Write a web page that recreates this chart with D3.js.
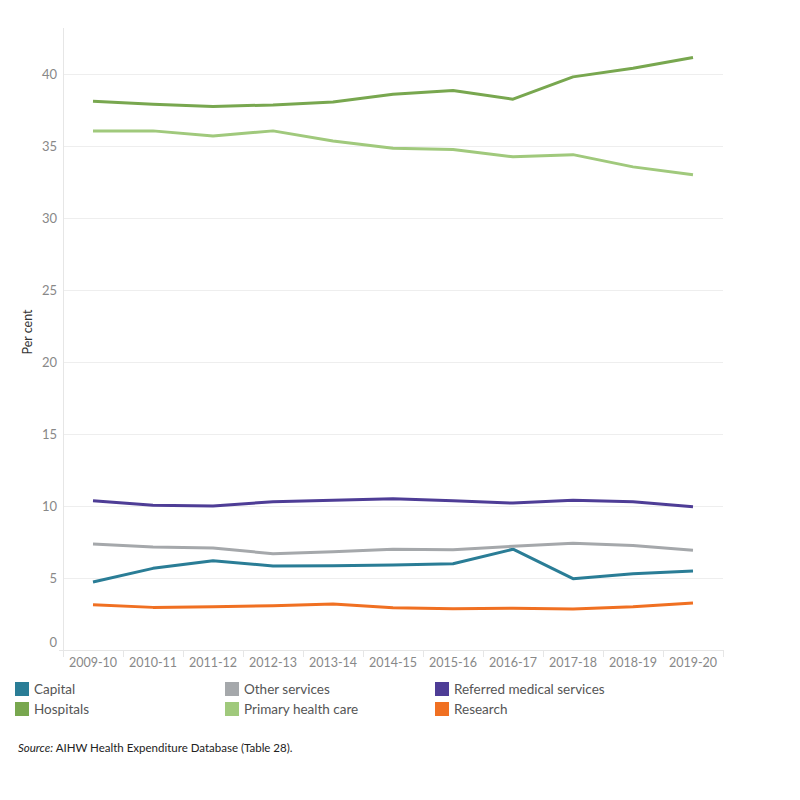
<!DOCTYPE html>
<html>
<head>
<meta charset="utf-8">
<script src="https://cdn.jsdelivr.net/npm/d3@7"></script>
<style>
  body { margin: 0; background: #fff; font-family: "Lato", "Open Sans", sans-serif; }
</style>
</head>
<body>
<div id="chart"></div>
<script>
// Data
const years = ["2009-10", "2010-11", "2011-12", "2012-13", "2013-14", "2014-15",
               "2015-16", "2016-17", "2017-18", "2018-19", "2019-20"];
const capital   = [4.72, 5.67, 6.2, 5.83, 5.85, 5.9, 5.99, 7.0, 4.95, 5.3, 5.49];
const other     = [7.36, 7.15, 7.08, 6.69, 6.83, 6.99, 6.97, 7.2, 7.41, 7.25, 6.92];
const referred  = [10.37, 10.05, 10.0, 10.3, 10.4, 10.5, 10.37, 10.2, 10.4, 10.3, 9.95];
const hospitals = [38.1, 37.9, 37.75, 37.85, 38.05, 38.6, 38.85, 38.25, 39.8, 40.4, 41.15];
const primary   = [36.05, 36.05, 35.7, 36.05, 35.35, 34.85, 34.75, 34.25, 34.4, 33.55, 33.0];
const research  = [3.15, 2.96, 3.0, 3.08, 3.19, 2.94, 2.87, 2.9, 2.85, 3.0, 3.26];
const yTicks = [0, 5, 10, 15, 20, 25, 30, 35, 40];

const series = [
    { name: "Capital", values: capital, color: "#2a7d96" },
    { name: "Other services", values: other, color: "#a5a8ab" },
    { name: "Referred medical services", values: referred, color: "#4e3d96" },
    { name: "Hospitals", values: hospitals, color: "#78a74f" },
    { name: "Primary health care", values: primary, color: "#a0c97c" },
    { name: "Research", values: research, color: "#f07022" }
];

const svg = d3.select("#chart").append("svg")
    .attr("width", 800)
    .attr("height", 800);

const plot = { left: 63, right: 723, top: 28, bottom: 650 };

const x = d3.scaleBand()
    .domain(years)
    .range([plot.left, plot.right]);

const y = d3.scaleLinear()
    .domain([0, 40])
    .range([plot.bottom, 74]);

// Gridlines
svg.append("g")
    .selectAll("line")
    .data(yTicks.filter(d => d > 0))
  .enter().append("line")
    .attr("x1", plot.left)
    .attr("x2", plot.right)
    .attr("y1", d => Math.round(y(d)) + 0.5)
    .attr("y2", d => Math.round(y(d)) + 0.5)
    .attr("stroke", "#eeeeee")
    .attr("stroke-width", 1);

// Axis lines
svg.append("line")
    .attr("x1", plot.left + 0.5).attr("x2", plot.left + 0.5)
    .attr("y1", plot.top).attr("y2", plot.bottom + 2)
    .attr("stroke", "#e6e6e6");
svg.append("line")
    .attr("x1", plot.left - 4).attr("x2", plot.right)
    .attr("y1", plot.bottom + 0.5).attr("y2", plot.bottom + 0.5)
    .attr("stroke", "#e6e6e6");

// Band separators below the x axis
svg.append("g")
    .selectAll("line")
    .data(years.concat(["end"]))
  .enter().append("line")
    .attr("x1", (d, i) => i < years.length ? x(d) + 0.5 : plot.right + 0.5)
    .attr("x2", (d, i) => i < years.length ? x(d) + 0.5 : plot.right + 0.5)
    .attr("y1", plot.bottom)
    .attr("y2", plot.bottom + 7)
    .attr("stroke", "#e6e6e6");

// Y tick labels
svg.append("g")
    .selectAll("text")
    .data(yTicks)
  .enter().append("text")
    .attr("x", 57)
    .attr("y", d => d === 0 ? y(d) - 8 : y(d))
    .attr("dy", "0.35em")
    .attr("text-anchor", "end")
    .attr("font-size", "13px")
    .attr("fill", "#888")
    .text(d => d);

// X tick labels
svg.append("g")
    .selectAll("text")
    .data(years)
  .enter().append("text")
    .attr("x", d => x(d) + x.bandwidth() / 2)
    .attr("y", plot.bottom + 17)
    .attr("text-anchor", "middle")
    .attr("font-size", "12.5px")
    .attr("fill", "#888")
    .text(d => d);

// Y axis title
svg.append("text")
    .attr("transform", "translate(32,332) rotate(-90)")
    .attr("text-anchor", "middle")
    .attr("font-size", "12.5px")
    .attr("fill", "#333")
    .text("Per cent");

// Lines
const line = d3.line()
    .x((d, i) => x(years[i]) + x.bandwidth() / 2)
    .y(d => y(d));

svg.append("g")
    .selectAll("path")
    .data(series)
  .enter().append("path")
    .attr("fill", "none")
    .attr("stroke", d => d.color)
    .attr("stroke-width", 3)
    .attr("stroke-linejoin", "round")
    .attr("d", d => line(d.values));

// Legend
const legendCols = [15, 225, 435];
const legend = svg.append("g")
    .selectAll("g")
    .data(series)
  .enter().append("g")
    .attr("transform", (d, i) => "translate(" + legendCols[i % 3] + "," + (682 + Math.floor(i / 3) * 20) + ")");

legend.append("rect")
    .attr("width", 14)
    .attr("height", 14)
    .attr("fill", d => d.color);

legend.append("text")
    .attr("x", 19)
    .attr("y", 7)
    .attr("dy", "0.35em")
    .attr("font-size", "13.5px")
    .attr("fill", "#555")
    .text(d => d.name);

// Source note
const source = svg.append("text")
    .attr("x", 18)
    .attr("y", 752)
    .attr("font-size", "11.5px")
    .attr("fill", "#222");
source.append("tspan").attr("font-style", "italic").text("Source:");
source.append("tspan").text(" AIHW Health Expenditure Database (Table 28).");
</script>
</body>
</html>
